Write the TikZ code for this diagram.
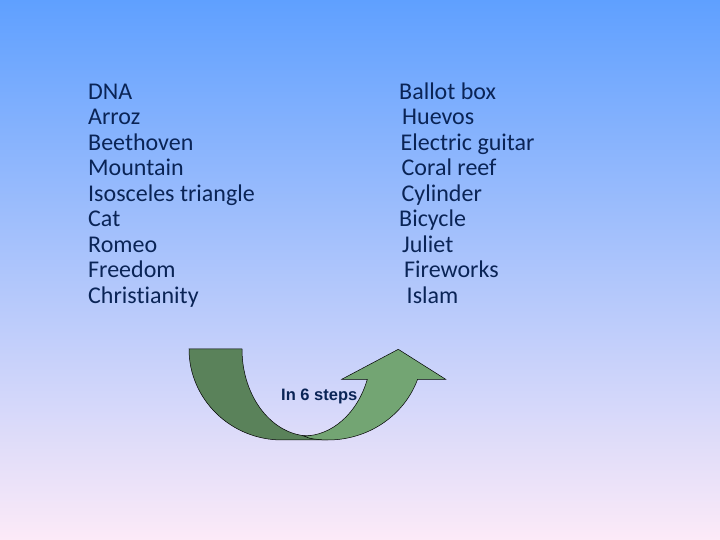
\documentclass[tikz,border=0pt]{standalone}
\usepackage{fontspec}
\setmainfont{Carlito}[Ligatures=NoCommon]
\newfontfamily\arialfont{Liberation Sans}
\usetikzlibrary{positioning}
\definecolor{bgtop}{RGB}{95,160,255}
\definecolor{bgmid}{RGB}{150,200,250}
\definecolor{bgbot}{RGB}{252,234,248}
\definecolor{wordcol}{RGB}{10,36,86}
\definecolor{darkband}{RGB}{90,130,90}
\definecolor{lightband}{RGB}{115,165,115}
\tikzset{word/.style={anchor=base west,inner sep=0pt,text=wordcol,font=\fontsize{24}{26}\selectfont},
         band/.style={draw=black,line width=0.5pt}}

\begin{document}
\begin{tikzpicture}[x=1pt,y=1pt]
                \shade[top color=bgtop,middle color=bgmid,bottom color=bgbot] (0,0) rectangle (720,540);
                \useasboundingbox (0,0) rectangle (720,540);

                % left column
                \node[word] at (88,440.5) (dna) {DNA};
                \node[word] at (88,415) (arroz) {Arroz};
                \node[word] at (88,389.5) (beethoven) {Beethoven};
                \node[word] at (88,364) (mountain) {Mountain};
                \node[word] at (88,338.5) (triangle) {Isosceles triangle};
                \node[word] at (88,313) (cat) {Cat};
                \node[word] at (88,287.5) (romeo) {Romeo};
                \node[word] at (88,262) (freedom) {Freedom};
                \node[word] at (88,236.5) (christianity) {Christianity};

                % right column
                \node[word] at (399,440.5) (ballot) {Ballot box};
                \node[word] at (402,415) (huevos) {Huevos};
                \node[word] at (400.5,389.5) (guitar) {Electric guitar};
                \node[word] at (401.5,364) (coral) {Coral reef};
                \node[word] at (401.5,338.5) (cylinder) {Cylinder};
                \node[word] at (399,313) (bicycle) {Bicycle};
                \node[word] at (402,287.5) (juliet) {Juliet};
                \node[word] at (404,262) (fireworks) {Fireworks};
                \node[word] at (406.5,236.5) (islam) {Islam};

                % curved arrow
                \filldraw[band,fill=darkband] (189,191) arc[start angle=180,end angle=270,x radius=93,y radius=91] -- (326,100) -- (310,104) arc[start angle=270,end angle=180,x radius=68,y radius=87] -- cycle;
                \filldraw[band,fill=lightband] (309.9,101.7) arc[start angle=259,end angle=340.5,x radius=95,y radius=91] -- (445.7,160.7) -- (398.3,190.7) -- (341.7,160.7) -- (367.3,160.7) arc[start angle=339.6,end angle=270,x radius=68,y radius=87] -- cycle;

                \node[anchor=base west,inner sep=0pt,text=wordcol,font=\arialfont\bfseries\fontsize{16.5}{19}\selectfont] at (281,139.3) (steps) {In 6 steps};
\end{tikzpicture}
\end{document}
